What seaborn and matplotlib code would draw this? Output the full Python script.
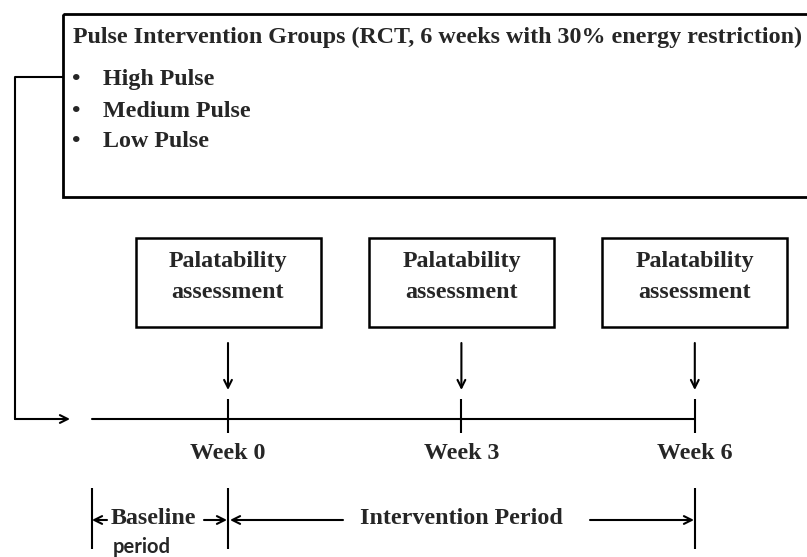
import pandas as pd
import seaborn as sns
import matplotlib.pyplot as plt
from matplotlib.patches import Rectangle

# diagram content
title = 'Pulse Intervention Groups (RCT, 6 weeks with 30% energy restriction)'
groups = ['High Pulse', 'Medium Pulse', 'Low Pulse']
weeks = [0, 3, 6]
week_labels = ['Week 0', 'Week 3', 'Week 6']
box_lines = ['Palatability', 'assessment']
baseline_start = -1.75  # weeks before week 0
baseline_label = 'Baseline'
baseline_sub = 'period'
intervention_label = 'Intervention Period'

sns.set_style('white')
plt.rcParams['font.family'] = 'Liberation Serif'
plt.rcParams['font.weight'] = 'bold'

W, H = 807, 557
fig = plt.figure(figsize=(W / 100, H / 100), dpi=100)

# pixel layer for the static frame
lay = fig.add_axes([0, 0, 1, 1], label='layout')
lay.set_xlim(0, W)
lay.set_ylim(H, 0)
lay.axis('off')

# week layer: x in weeks, y in pixel rows
px_per_week = 77.8
x_week0 = 228
ax = fig.add_axes([0, 0, 1, 1], label='weeks')
ax.axis('off')

arrow = dict(arrowstyle='->', lw=1.5, color='black', mutation_scale=14,
             shrinkA=0, shrinkB=0)

# fit the serif size to the title width
renderer = fig.canvas.get_renderer()
t = lay.text(73, 43, title, fontsize=16, ha='left', va='baseline')
fs = 16 * 729 / t.get_window_extent(renderer).width
t.set_fontsize(fs)

# top box with intervention groups
lay.add_patch(Rectangle((63, 14), 780, 183, fill=False, ec='black', lw=2))
for g, yb in zip(groups, [85, 117, 147]):
    lay.text(76, yb, '\u2022', fontsize=fs, ha='center', va='baseline')
    lay.text(103, yb, g, fontsize=fs, ha='left', va='baseline')

# connector from the group box to the timeline
lay.plot([63, 15, 15], [77, 77, 419], color='black', lw=1.5)
lay.annotate('', xy=(70, 419), xytext=(15, 419), arrowprops=arrow)

# timeline
tl = pd.DataFrame({'week': [baseline_start] + weeks, 'row': 418.5})
sns.lineplot(data=tl, x='week', y='row', color='black', lw=1.5, ax=ax)
ax.vlines(weeks, 399, 433, color='black', lw=1.5)

box_w = 185 / px_per_week
for w, lbl in zip(weeks, week_labels):
    ax.add_patch(Rectangle((w - box_w / 2, 238), box_w, 89, fill=False,
                           ec='black', lw=1.8))
    ax.text(w, 267, box_lines[0], fontsize=fs, ha='center', va='baseline')
    ax.text(w, 298, box_lines[1], fontsize=fs, ha='center', va='baseline')
    ax.annotate('', xy=(w, 390), xytext=(w, 343), arrowprops=arrow)
    ax.text(w, 459, lbl, fontsize=fs, ha='center', va='baseline')

# period brackets
ax.vlines([baseline_start, weeks[0], weeks[-1]], 488, 549, color='black', lw=1.5)
ax.set_xlim(-x_week0 / px_per_week, (W - x_week0) / px_per_week)
ax.set_ylim(H, 0)

lay.annotate('', xy=(92, 520), xytext=(107, 520), arrowprops=arrow)
lay.text(111, 524, baseline_label, fontsize=fs, ha='left', va='baseline')
lay.annotate('', xy=(227, 520), xytext=(204, 520), arrowprops=arrow)
lay.text(113, 553, baseline_sub, fontsize=14.5, family='Lato',
         fontweight='bold', ha='left', va='baseline')

lay.annotate('', xy=(230, 520), xytext=(343, 520), arrowprops=arrow)
lay.text(461, 524, intervention_label, fontsize=fs, ha='center', va='baseline')
lay.annotate('', xy=(694, 520), xytext=(590, 520), arrowprops=arrow)

plt.savefig('out.png', dpi=100)
